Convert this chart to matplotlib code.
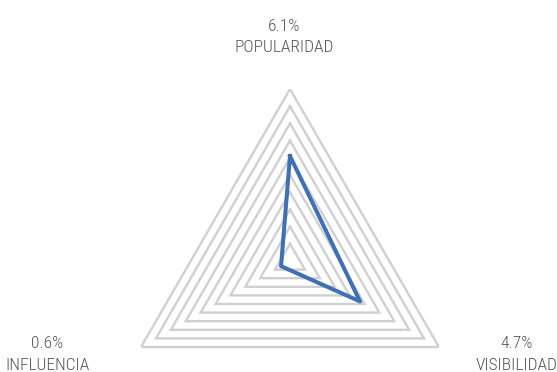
import numpy as np
import matplotlib
matplotlib.use('Agg')
import matplotlib.pyplot as plt

categories = ['POPULARIDAD', 'VISIBILIDAD', 'INFLUENCIA']
values = [6.1, 4.7, 0.6]          # percent
grid_levels = list(range(1, 11))  # 1% .. 10%

plt.rcParams['font.family'] = ['Roboto Condensed', 'DejaVu Sans']

fig = plt.figure(figsize=(5.57, 3.72), dpi=100)
W, H = 557, 372
cx, cy, R = 290, 261, 172
ax = fig.add_axes([(cx - R) / W, (H - cy - R) / H, 2 * R / W, 2 * R / H],
                  projection='polar')
ax.set_theta_zero_location('N')
ax.set_theta_direction(-1)
ax.set_ylim(0, 10)
ax.axis('off')

angles = np.linspace(0, 2 * np.pi, len(categories), endpoint=False)
closed = np.append(angles, angles[0])

# triangular grid rings
for lvl in grid_levels:
    ax.plot(closed, [lvl] * len(closed), color='#d0d0d0', lw=1.7,
            solid_joinstyle='miter', zorder=1)

ax.plot(closed, values + values[:1], color='#3D70B5', lw=2.9,
        solid_joinstyle='round', zorder=3)

# category labels with their values (x centre, value baseline, name baseline)
label_pos = {
    'POPULARIDAD': (284.5, 31, 52),
    'VISIBILIDAD': (517, 348, 370),
    'INFLUENCIA': (47.5, 348, 370),
}
for cat, val in zip(categories, values):
    x, y1, y2 = label_pos[cat]
    fig.text(x / W, 1 - y1 / H, f'{val}%', ha='center', va='baseline',
             fontsize=12.5, fontweight='light', color='#555555')
    fig.text(x / W, 1 - y2 / H, cat, ha='center', va='baseline',
             fontsize=12.5, fontweight='light', color='#555555')

fig.savefig('out.png', dpi=100)
